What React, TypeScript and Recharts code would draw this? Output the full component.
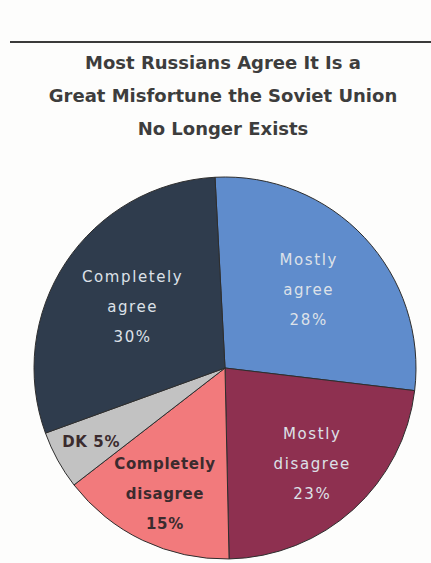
import { PieChart, Pie, Cell } from "recharts";

const categories = ["Mostly agree", "Mostly disagree", "Completely disagree", "DK", "Completely agree"];
const shares = [28, 23, 15, 5, 30];
const sliceColors = ["#5f8ccc", "#8e3050", "#f27a7c", "#c2c2c2", "#2f3c4d"];

const titleLines = [
  "Most Russians Agree It Is a",
  "Great Misfortune the Soviet Union",
  "No Longer Exists",
];

const chartData = categories.map((name, i) => ({ name, value: shares[i] }));

const RADIAN = Math.PI / 180;

const renderLabel = (props: any) => {
  const { cx, cy, midAngle, outerRadius, index, name, value } = props;
  // small slices sit further out, like the original
  const frac = index === 3 ? 0.8 : index === 2 ? 0.73 : index === 1 ? 0.68 : index === 4 ? 0.58 : 0.6;
  const r = outerRadius * frac;
  const x = cx + r * Math.cos(-midAngle * RADIAN);
  const y = cy + r * Math.sin(-midAngle * RADIAN);
  const dark = index === 2 || index === 3;
  const fill = dark ? "#3b2b2e" : "#dde1e8";
  const weight = dark ? 700 : 400;
  const lines = index === 3 ? [`${name} ${value}%`] : [...name.split(" "), `${value}%`];
  const lh = 30;
  const top = y - ((lines.length - 1) * lh) / 2;
  return (
    <text
      x={x}
      y={top}
      textAnchor="middle"
      dominantBaseline="central"
      fill={fill}
      fontFamily="DejaVu Sans"
      fontSize={15}
      fontWeight={weight}
      letterSpacing={dark ? 0.6 : 1.6}
    >
      {lines.map((l, i) => (
        <tspan key={i} x={x} dy={i === 0 ? 0 : lh}>
          {l}
        </tspan>
      ))}
    </text>
  );
};

export default function App() {
  return (
    <div
      style={{
        position: "absolute",
        left: 0,
        top: 0,
        width: 431,
        height: 563,
        background: "#fdfdfc",
        overflow: "hidden",
      }}
    >
      <div
        style={{
          position: "absolute",
          left: 10,
          right: 0,
          top: 41,
          height: 2,
          background: "#3a3a3a",
        }}
      />
      <div
        style={{
          position: "absolute",
          left: 0,
          top: 46,
          width: 446,
          textAlign: "center",
          fontFamily: "DejaVu Sans",
          fontWeight: 700,
          fontSize: 18,
          lineHeight: "33px",
          color: "#3d3d3d",
        }}
      >
        {titleLines.map((t) => (
          <div key={t}>{t}</div>
        ))}
      </div>
      <div style={{ position: "absolute", left: 0, top: 0 }}>
        <PieChart width={431} height={563} margin={{ top: 0, right: 0, bottom: 0, left: 0 }}>
          <Pie
            data={chartData}
            dataKey="value"
            nameKey="name"
            cx={225}
            cy={368}
            outerRadius={191}
            startAngle={93}
            endAngle={-267}
            stroke="#2e2e2e"
            strokeWidth={1}
            label={renderLabel}
            labelLine={false}
            isAnimationActive={false}
          >
            {chartData.map((d, i) => (
              <Cell key={d.name} fill={sliceColors[i]} />
            ))}
          </Pie>
        </PieChart>
      </div>
    </div>
  );
}
